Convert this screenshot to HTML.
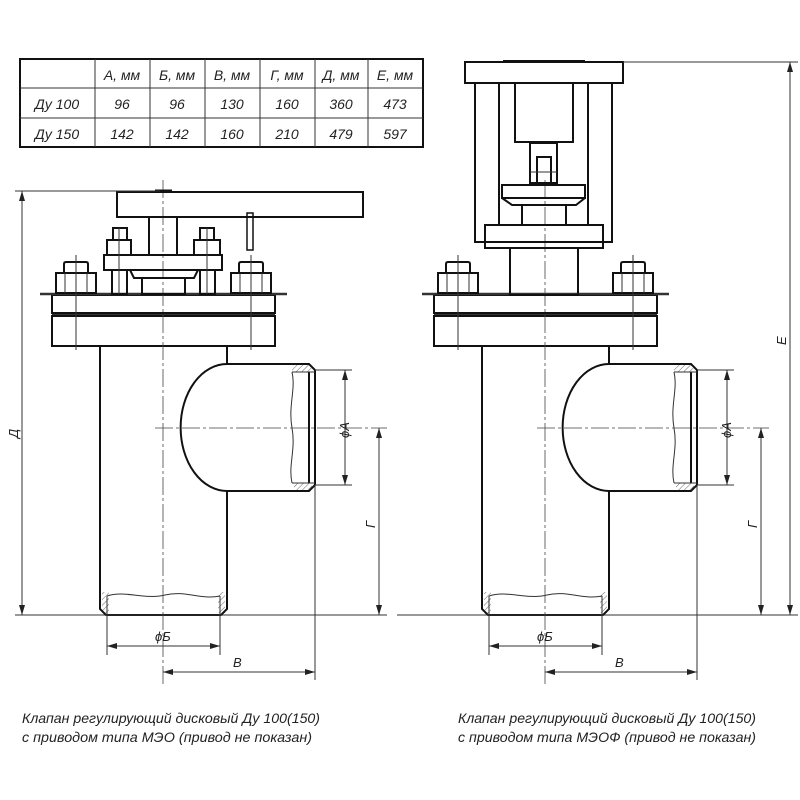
<!DOCTYPE html>
<html><head><meta charset="utf-8"><style>
html,body{margin:0;padding:0;background:#fff}
svg{display:block}
text{font-family:"Liberation Sans","DejaVu Sans",sans-serif;font-style:italic;fill:#222}
.t{stroke:#111;stroke-width:2;fill:none}
.th{stroke:#333;stroke-width:1;fill:none}
.c{stroke:#444;stroke-width:0.8;fill:none;stroke-dasharray:18 3 3 3}
.h{stroke:#333;stroke-width:0.7}
</style></head><body>
<svg width="800" height="800" viewBox="0 0 800 800" xmlns="http://www.w3.org/2000/svg">
<defs>
<marker id="a" viewBox="0 0 10 6" refX="10" refY="3" markerWidth="10" markerHeight="6" orient="auto-start-reverse" markerUnits="userSpaceOnUse"><path d="M0,0 L10,3 L0,6 z" fill="#222"/></marker>
<pattern id="hat" width="4" height="4" patternUnits="userSpaceOnUse" patternTransform="rotate(45)"><line x1="0" y1="0" x2="0" y2="4" stroke="#444" stroke-width="0.8"/></pattern>
<g id="body">
  <!-- flanges -->
  <rect class="t" x="52" y="295" width="223" height="18"/>
  <rect class="t" x="52" y="316" width="223" height="30"/>
  <line class="th" x1="52" y1="314.5" x2="275" y2="314.5"/>
  <line class="th" x1="40" y1="294" x2="287" y2="294" style="stroke-width:2.5"/>
  <!-- big nuts -->
  <rect class="t" x="56" y="273" width="40" height="20"/>
  <line class="th" x1="65" y1="273" x2="65" y2="293"/><line class="th" x1="87" y1="273" x2="87" y2="293"/>
  <path class="t" d="M64,273 V264 Q64,262 66,262 H86 Q88,262 88,264 V273"/>
  <rect class="t" x="231" y="273" width="40" height="20"/>
  <line class="th" x1="240" y1="273" x2="240" y2="293"/><line class="th" x1="262" y1="273" x2="262" y2="293"/>
  <path class="t" d="M239,273 V264 Q239,262 241,262 H261 Q263,262 263,264 V273"/>
  <line class="th" x1="76" y1="255" x2="76" y2="350"/>
  <line class="th" x1="251" y1="255" x2="251" y2="350"/>
  <!-- body -->
  <path class="t" d="M100,346 V609 L106,615 H221 L227,609 V491 H309 L315,485 V370 L309,364 H227 V346"/>
  <path class="t" d="M227,364 A46,63 0 0 0 227,491"/>
  <rect x="292" y="365" width="20" height="7" fill="url(#hat)"/>
  <rect x="294" y="483" width="18" height="7" fill="url(#hat)"/>
  <rect x="102" y="592" width="7" height="21" fill="url(#hat)"/>
  <rect x="218" y="592" width="7" height="21" fill="url(#hat)"/>
  <line class="t" x1="309" y1="372" x2="309" y2="483"/>
  <line class="th" x1="292" y1="372" x2="315" y2="372"/><line class="th" x1="292" y1="483" x2="315" y2="483"/>
  <path class="th" d="M292,372 C296,390 288,405 292,428 C296,450 288,465 292,483"/>
  <path class="th" d="M107,596 C125,590 145,600 165,595 C185,590 200,600 220,596"/>
  <line class="th" x1="107" y1="596" x2="107" y2="615"/><line class="th" x1="220" y1="596" x2="220" y2="615"/>
  <!-- centerlines -->
  <line class="c" x1="163" y1="180" x2="163" y2="685"/>
  <line class="c" x1="155" y1="428" x2="387" y2="428"/>
  <!-- dims -->
  <line class="th" x1="15" y1="615" x2="387" y2="615"/>
  <line class="th" x1="315" y1="485" x2="315" y2="680"/>
  <line class="th" x1="315" y1="370" x2="352" y2="370"/>
  <line class="th" x1="315" y1="485" x2="352" y2="485"/>
  <line class="th" x1="345" y1="370" x2="345" y2="485" marker-start="url(#a)" marker-end="url(#a)"/>
  <text transform="translate(349,438) rotate(-90)" font-size="13">ϕA</text>
  <line class="th" x1="379" y1="428" x2="379" y2="615" marker-start="url(#a)" marker-end="url(#a)"/>
  <text transform="translate(375,528) rotate(-90)" font-size="13">Г</text>
  <line class="th" x1="107" y1="615" x2="107" y2="655"/>
  <line class="th" x1="220" y1="615" x2="220" y2="655"/>
  <line class="th" x1="107" y1="646" x2="220" y2="646" marker-start="url(#a)" marker-end="url(#a)"/>
  <text x="155" y="641" font-size="13">ϕБ</text>
  <line class="th" x1="163" y1="672" x2="315" y2="672" marker-start="url(#a)" marker-end="url(#a)"/>
  <text x="233" y="667" font-size="13">В</text>
</g>
</defs>

<!-- table -->
<rect x="20" y="59" width="403" height="88" fill="none" stroke="#111" stroke-width="2"/>
<g class="th">
<line x1="20" y1="88" x2="423" y2="88"/><line x1="20" y1="118" x2="423" y2="118"/>
<line x1="95" y1="59" x2="95" y2="147"/><line x1="150" y1="59" x2="150" y2="147"/>
<line x1="205" y1="59" x2="205" y2="147"/><line x1="260" y1="59" x2="260" y2="147"/>
<line x1="315" y1="59" x2="315" y2="147"/><line x1="368" y1="59" x2="368" y2="147"/>
</g>
<g font-size="14" text-anchor="middle">
<text x="122" y="80">А, мм</text><text x="177" y="80">Б, мм</text><text x="232" y="80">В, мм</text>
<text x="287" y="80">Г, мм</text><text x="341" y="80">Д, мм</text><text x="395" y="80">Е, мм</text>
<text x="57" y="109">Ду 100</text><text x="122" y="109">96</text><text x="177" y="109">96</text><text x="232" y="109">130</text><text x="287" y="109">160</text><text x="341" y="109">360</text><text x="395" y="109">473</text>
<text x="57" y="139">Ду 150</text><text x="122" y="139">142</text><text x="177" y="139">142</text><text x="232" y="139">160</text><text x="287" y="139">210</text><text x="341" y="139">479</text><text x="395" y="139">597</text>
</g>

<!-- LEFT valve -->
<use href="#body"/>
<rect class="t" x="117" y="192" width="246" height="25"/>
<line class="t" x1="155" y1="191" x2="172" y2="191" style="stroke-width:3"/>
<line class="th" x1="15" y1="191" x2="160" y2="191"/>
<line class="th" x1="22" y1="191" x2="22" y2="615" marker-start="url(#a)" marker-end="url(#a)"/>
<text transform="translate(18,438) rotate(-90)" font-size="13">Д</text>
<rect class="t" x="149" y="217" width="28" height="38"/>
<rect class="t" x="247" y="213" width="6" height="37" style="stroke-width:1.5"/>
<rect class="t" x="104" y="255" width="118" height="15"/>
<rect class="t" x="107" y="240" width="24" height="15"/><rect class="t" x="113" y="228" width="14" height="12"/>
<rect class="t" x="194" y="240" width="26" height="15"/><rect class="t" x="200" y="228" width="14" height="12"/>
<path class="t" d="M130,270 L134,278 H194 L198,270"/>
<rect class="t" x="142" y="278" width="43" height="16"/>
<rect class="t" x="112" y="270" width="15" height="24"/><rect class="t" x="200" y="270" width="15" height="24"/>
<line class="th" x1="119" y1="228" x2="119" y2="294"/><line class="th" x1="207" y1="228" x2="207" y2="294"/>

<!-- RIGHT valve -->
<use href="#body" transform="translate(382,0)"/>
<rect class="t" x="465" y="62" width="158" height="21"/>
<line class="t" x1="503" y1="61" x2="585" y2="61" style="stroke-width:2"/>
<line class="th" x1="623" y1="62" x2="798" y2="62"/>
<line class="th" x1="790" y1="62" x2="790" y2="615" marker-start="url(#a)" marker-end="url(#a)"/>
<text transform="translate(786,345) rotate(-90)" font-size="13">Е</text>
<line class="th" x1="700" y1="615" x2="798" y2="615"/>
<rect class="t" x="475" y="83" width="137" height="159"/>
<rect class="t" x="499" y="83" width="89" height="142"/>
<rect class="t" x="515" y="83" width="58" height="59"/>
<rect class="t" x="530" y="143" width="27" height="40"/>
<rect class="t" x="537" y="157" width="14" height="26"/>
<line class="th" x1="530" y1="172" x2="557" y2="172"/>
<rect class="t" x="502" y="185" width="83" height="13"/>
<path class="t" d="M502,198 L512,205 H576 L585,198"/>
<rect class="t" x="522" y="205" width="44" height="20"/>
<rect class="t" x="485" y="225" width="118" height="23"/>
<rect class="t" x="510" y="248" width="68" height="47"/>

<!-- captions -->
<text x="22" y="723" font-size="14" textLength="298" lengthAdjust="spacingAndGlyphs">Клапан регулирующий дисковый Ду 100(150)</text>
<text x="22" y="742" font-size="14" textLength="290" lengthAdjust="spacingAndGlyphs">с приводом типа МЭО (привод не показан)</text>
<text x="458" y="723" font-size="14" textLength="298" lengthAdjust="spacingAndGlyphs">Клапан регулирующий дисковый Ду 100(150)</text>
<text x="458" y="742" font-size="14" textLength="298" lengthAdjust="spacingAndGlyphs">с приводом типа МЭОФ (привод не показан)</text>
</svg>
</body></html>
